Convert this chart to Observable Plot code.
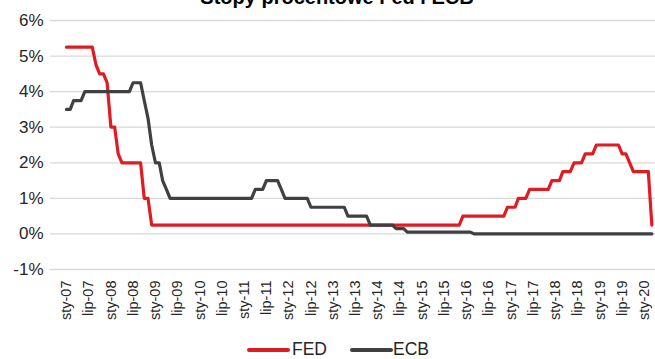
<!DOCTYPE html>
<html>
<head>
<meta charset="utf-8">
<script src="https://cdn.jsdelivr.net/npm/d3@7"></script>
<script src="https://cdn.jsdelivr.net/npm/@observablehq/plot@0.6"></script>
<style>
  html, body { margin: 0; padding: 0; background: #ffffff; }
  #chart { position: relative; width: 655px; height: 359px; overflow: hidden; font-family: "Liberation Sans", Arial, sans-serif; }
  #title { position: absolute; top: -13px; left: 337px; transform: translateX(-50%); white-space: nowrap;
           font: bold 20px "Liberation Sans", Arial, sans-serif; line-height: 20px; color: #000; }
  #plot { position: absolute; top: 0; left: 0; }
  .swatch { position: absolute; height: 4px; border-radius: 2px; }
  .key { position: absolute; font-size: 17.5px; line-height: 19px; color: #262626; }
</style>
</head>
<body>
<div id="chart">
  <div id="title">Stopy procentowe Fed i ECB</div>
  <div id="plot"></div>
</div>
<script>
// Monthly end-of-month policy rates, January 2007 – March 2020 (%)
const firstMonth = new Date(Date.UTC(2007, 0, 1));
const lastMonth = new Date(Date.UTC(2020, 2, 1));

// Fed funds target rate (upper bound)
const fed = [
  5.25, 5.25, 5.25, 5.25, 5.25, 5.25, 5.25, 5.25, 4.75, 4.5, 4.5, 4.25,   // 2007
  3.0, 3.0, 2.25, 2.0, 2.0, 2.0, 2.0, 2.0, 2.0, 1.0, 1.0, 0.25,           // 2008
  0.25, 0.25, 0.25, 0.25, 0.25, 0.25, 0.25, 0.25, 0.25, 0.25, 0.25, 0.25, // 2009
  0.25, 0.25, 0.25, 0.25, 0.25, 0.25, 0.25, 0.25, 0.25, 0.25, 0.25, 0.25, // 2010
  0.25, 0.25, 0.25, 0.25, 0.25, 0.25, 0.25, 0.25, 0.25, 0.25, 0.25, 0.25, // 2011
  0.25, 0.25, 0.25, 0.25, 0.25, 0.25, 0.25, 0.25, 0.25, 0.25, 0.25, 0.25, // 2012
  0.25, 0.25, 0.25, 0.25, 0.25, 0.25, 0.25, 0.25, 0.25, 0.25, 0.25, 0.25, // 2013
  0.25, 0.25, 0.25, 0.25, 0.25, 0.25, 0.25, 0.25, 0.25, 0.25, 0.25, 0.25, // 2014
  0.25, 0.25, 0.25, 0.25, 0.25, 0.25, 0.25, 0.25, 0.25, 0.25, 0.25, 0.5,  // 2015
  0.5, 0.5, 0.5, 0.5, 0.5, 0.5, 0.5, 0.5, 0.5, 0.5, 0.5, 0.75,            // 2016
  0.75, 0.75, 1.0, 1.0, 1.0, 1.25, 1.25, 1.25, 1.25, 1.25, 1.25, 1.5,     // 2017
  1.5, 1.5, 1.75, 1.75, 1.75, 2.0, 2.0, 2.0, 2.25, 2.25, 2.25, 2.5,       // 2018
  2.5, 2.5, 2.5, 2.5, 2.5, 2.5, 2.25, 2.25, 2.0, 1.75, 1.75, 1.75,        // 2019
  1.75, 1.75, 0.25                                                        // 2020
];

// ECB main refinancing operations rate
const ecb = [
  3.5, 3.5, 3.75, 3.75, 3.75, 4.0, 4.0, 4.0, 4.0, 4.0, 4.0, 4.0,          // 2007
  4.0, 4.0, 4.0, 4.0, 4.0, 4.0, 4.25, 4.25, 4.25, 3.75, 3.25, 2.5,        // 2008
  2.0, 2.0, 1.5, 1.25, 1.0, 1.0, 1.0, 1.0, 1.0, 1.0, 1.0, 1.0,            // 2009
  1.0, 1.0, 1.0, 1.0, 1.0, 1.0, 1.0, 1.0, 1.0, 1.0, 1.0, 1.0,             // 2010
  1.0, 1.0, 1.0, 1.25, 1.25, 1.25, 1.5, 1.5, 1.5, 1.5, 1.25, 1.0,         // 2011
  1.0, 1.0, 1.0, 1.0, 1.0, 1.0, 0.75, 0.75, 0.75, 0.75, 0.75, 0.75,       // 2012
  0.75, 0.75, 0.75, 0.75, 0.5, 0.5, 0.5, 0.5, 0.5, 0.5, 0.25, 0.25,       // 2013
  0.25, 0.25, 0.25, 0.25, 0.25, 0.15, 0.15, 0.15, 0.05, 0.05, 0.05, 0.05, // 2014
  0.05, 0.05, 0.05, 0.05, 0.05, 0.05, 0.05, 0.05, 0.05, 0.05, 0.05, 0.05, // 2015
  0.05, 0.05, 0, 0, 0, 0, 0, 0, 0, 0, 0, 0,                               // 2016
  0, 0, 0, 0, 0, 0, 0, 0, 0, 0, 0, 0,                                     // 2017
  0, 0, 0, 0, 0, 0, 0, 0, 0, 0, 0, 0,                                     // 2018
  0, 0, 0, 0, 0, 0, 0, 0, 0, 0, 0, 0,                                     // 2019
  0, 0, 0                                                                 // 2020
];

// Axis ticks
const yTicks = [-1, 0, 1, 2, 3, 4, 5, 6];
const halfYearNames = ["sty", "lip"];   // January / July
const seriesNames = ["FED", "ECB"];
const seriesColors = ["#e01b22", "#404040"];

const months = d3.utcMonth.range(firstMonth, d3.utcMonth.offset(lastMonth, 1));
const rows = months.map((date, i) => ({date, fed: fed[i], ecb: ecb[i]}));
const xTicks = d3.utcMonth.every(6).range(firstMonth, d3.utcMonth.offset(lastMonth, 1));
const fmtX = d => `${halfYearNames[d.getUTCMonth() === 0 ? 0 : 1]}-${String(d.getUTCFullYear()).slice(2)}`;

const chart = Plot.plot({
  width: 655,
  height: 330,
  marginLeft: 50,
  marginRight: 0,
  marginTop: 20,
  marginBottom: 61,
  style: {fontFamily: "'Liberation Sans', Arial, sans-serif", background: "transparent", color: "#262626"},
  x: {type: "utc", domain: [new Date(Date.UTC(2006, 7, 23)), new Date(Date.UTC(2020, 2, 31))], label: null},
  y: {domain: [-1, 6], label: null},
  marks: [
    Plot.gridY(yTicks, {stroke: "#d9d9d9", strokeOpacity: 1, strokeWidth: 1.3}),
    Plot.axisY(yTicks, {tickSize: 0, tickPadding: 7, fontSize: 17, tickFormat: d => d + "%", label: null}),
    Plot.axisX(xTicks, {tickSize: 0, tickPadding: 11, tickRotate: -90, fontSize: 14.5,
                        textAnchor: "end", lineAnchor: "middle", tickFormat: fmtX, label: null}),
    Plot.line(rows, {x: "date", y: "fed", stroke: seriesColors[0], strokeWidth: 3.2}),
    Plot.line(rows, {x: "date", y: "ecb", stroke: seriesColors[1], strokeWidth: 3.2})
  ]
});
document.getElementById("plot").appendChild(chart);

// Legend below the plot
const legendLayout = [
  {swatchLeft: 247, textLeft: 292},
  {swatchLeft: 350, textLeft: 393}
];
const box = document.getElementById("chart");
seriesNames.forEach((name, i) => {
  const sw = document.createElement("div");
  sw.className = "swatch";
  sw.style.left = legendLayout[i].swatchLeft + "px";
  sw.style.top = "348px";
  sw.style.width = "43px";
  sw.style.background = seriesColors[i];
  box.appendChild(sw);
  const t = document.createElement("div");
  t.className = "key";
  t.style.left = legendLayout[i].textLeft + "px";
  t.style.top = "340px";
  t.textContent = name;
  box.appendChild(t);
});
</script>
</body>
</html>
